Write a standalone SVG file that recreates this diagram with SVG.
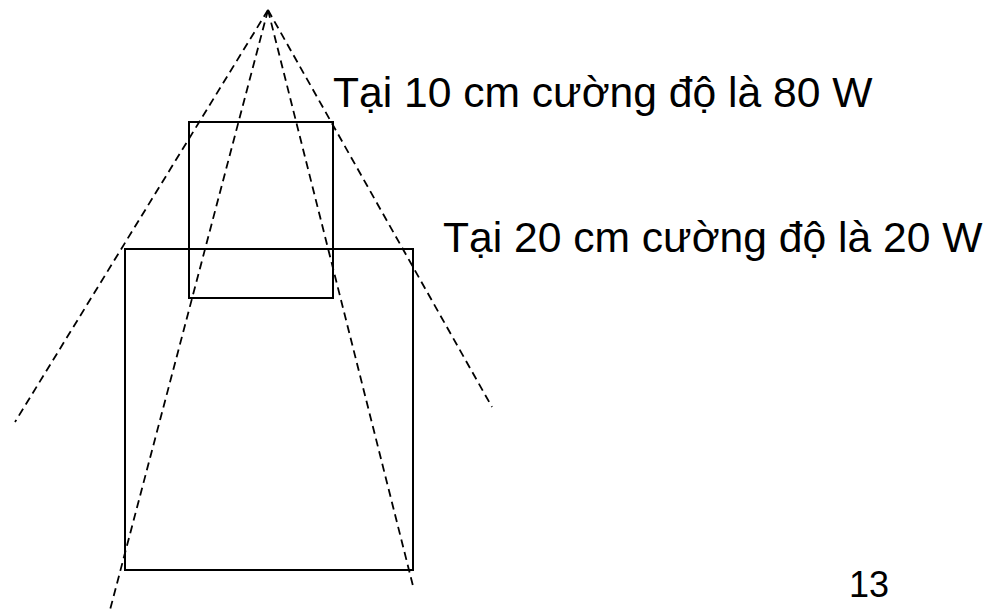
<svg xmlns="http://www.w3.org/2000/svg" width="992" height="612" viewBox="0 0 992 612">
<style>
.dash{fill:none;stroke:#000;stroke-width:1.8;stroke-dasharray:8,5}
.box{fill:none;stroke:#000;stroke-width:2}
text{font-family:"Liberation Sans",Arial,sans-serif;font-size:42.6px;fill:#000}
</style>
<rect width="992" height="612" fill="#fff"/>
<g id="connectors">
<line class="dash" x1="268" y1="10" x2="15" y2="422"/>
<line class="dash" x1="268" y1="10" x2="110" y2="610"/>
<line class="dash" x1="268" y1="10" x2="413" y2="586"/>
<line class="dash" x1="268" y1="10" x2="492" y2="407"/>
</g>
<g id="box10"><rect class="box" x="189" y="122" width="144" height="176"/></g>
<g id="box20"><rect class="box" x="125" y="249" width="288" height="321"/></g>
<g id="label10"><text x="333" y="107">Tại 10 cm cường độ là 80 W</text></g>
<g id="label20"><text x="443" y="252">Tại 20 cm cường độ là 20 W</text></g>
<g id="page"><text x="849" y="597" style="font-size:36px">13</text></g>
</svg>
